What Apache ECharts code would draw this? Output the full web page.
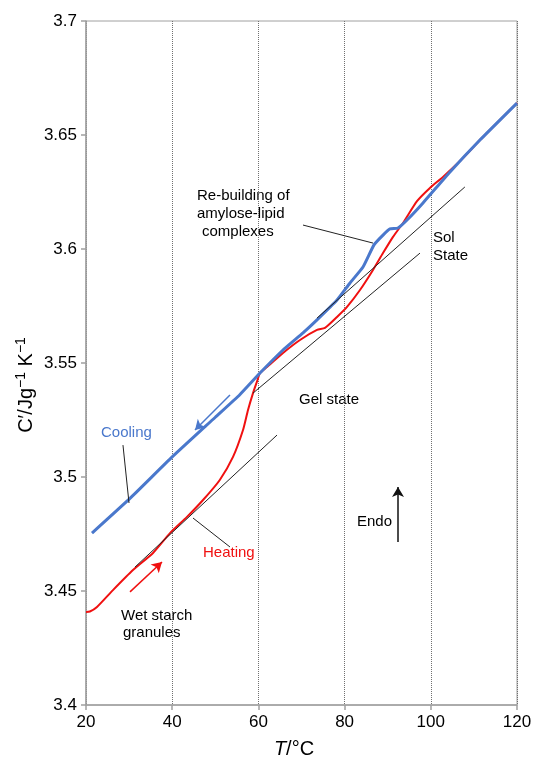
<!DOCTYPE html>
<html>
<head>
<meta charset="utf-8">
<script src="https://cdn.jsdelivr.net/npm/echarts/dist/echarts.min.js"></script>
<style>
html,body{margin:0;padding:0;background:#fff;}
#chart{width:535px;height:757px;}
</style>
</head>
<body>
<div id="chart"></div>
<script>
// Heating curve (red)
const heatT = [20, 20.9, 22.55, 26.26, 30.9, 35.55, 39.49, 43.43, 47.15, 51.04, 54.11, 56.43, 57.59, 58.75, 59.7, 60.37, 62.0, 65.71, 69.65, 73.6, 75.45, 78.24, 80.56, 83.57, 86.59, 88.91, 91.23, 93.55, 96.8, 99.8, 102.83, 107, 111.4, 116, 120];
const heatC = [3.4408, 3.4410, 3.4430, 3.4504, 3.4592, 3.4667, 3.4754, 3.4825, 3.4899, 3.4987, 3.5088, 3.5206, 3.5294, 3.5368, 3.5420, 3.5456, 3.5482, 3.5544, 3.5601, 3.5645, 3.5654, 3.5702, 3.5746, 3.5820, 3.5908, 3.5982, 3.6053, 3.6114, 3.6210, 3.6268, 3.6316, 3.6390, 3.6478, 3.6565, 3.6640];
// Cooling curve (blue)
const coolT = [21.39, 30.2, 40, 50, 55.73, 60.37, 65.71, 70.35, 73.6, 78.24, 81.25, 84.27, 86.82, 88.91, 90.53, 92.39, 94.48, 98.19, 104.45, 111.4, 120];
const coolC = [3.4754, 3.4906, 3.5088, 3.5262, 3.5362, 3.5456, 3.5557, 3.5632, 3.5689, 3.5776, 3.5851, 3.5921, 3.6018, 3.6061, 3.6088, 3.6092, 3.6127, 3.6202, 3.6338, 3.6478, 3.6640];
// Tangent lines [T1, C1, T2, C2]
const tangentLow = [31.37, 3.4605, 64.32, 3.5184];
const tangentGel = [58.75, 3.5368, 97.49, 3.5982];
const tangentSol = [73.6, 3.5697, 107.9, 3.6272];
// Leader lines
const leaderRebuild = [70.35, 3.6105, 86.59, 3.6026];
const leaderCooling = [28.58, 3.5140, 29.98, 3.4886];
const leaderHeating = [44.83, 3.4820, 53.41, 3.4693];
// Arrows [from T, from C, to T, to C]
const arrowCool = [53.41, 3.5360, 45.29, 3.5206];
const arrowHeat = [30.21, 3.4496, 37.63, 3.4627];
const arrowEndo = [92.39, 3.4715, 92.39, 3.4956];
// Axis ticks
const xMin = 20, xMax = 120, xStep = 20;
const yMin = 3.4, yMax = 3.7, yStep = 0.05;

const FONT = 'Liberation Sans, Arial, Helvetica, sans-serif';
const chart = echarts.init(document.getElementById('chart'));

function pairs(t, c) { return t.map((v, i) => [v, c[i]]); }
function seg(a, sym, color, width) {
  return [{ coord: [a[0], a[1]], symbol: sym[0], lineStyle: { color: color, width: width, type: 'solid' } },
          { coord: [a[2], a[3]], symbol: sym[1] }];
}

const option = {
  animation: false,
  backgroundColor: '#fff',
  grid: { left: 86, right: 18, top: 21, bottom: 52, show: true, borderColor: '#a0a0a0', borderWidth: 1, backgroundColor: 'transparent' },
  xAxis: {
    type: 'value', min: xMin, max: xMax, interval: xStep,
    axisLine: { show: true, lineStyle: { color: '#a0a0a0', width: 1.5 } },
    axisTick: { show: true, inside: false, length: 5, lineStyle: { color: '#a0a0a0', width: 1.5 } },
    axisLabel: { color: '#000', fontSize: 17, fontFamily: FONT, margin: 9 },
    splitLine: { show: true, lineStyle: { color: '#707070', width: 1, type: 'dotted' } }
  },
  yAxis: {
    type: 'value', min: yMin, max: yMax, interval: yStep,
    axisLine: { show: true, lineStyle: { color: '#a0a0a0', width: 1.5 } },
    axisTick: { show: true, inside: false, length: 5, lineStyle: { color: '#a0a0a0', width: 1.5 } },
    axisLabel: { color: '#000', fontSize: 17, fontFamily: FONT, margin: 9, formatter: v => String(+v.toFixed(2)) },
    splitLine: { show: false }
  },
  series: [
    {
      type: 'line', name: 'Heating', data: pairs(heatT, heatC), showSymbol: false, smooth: 0.2,
      lineStyle: { color: '#f01010', width: 2 }, z: 3
    },
    {
      type: 'line', name: 'Cooling', data: pairs(coolT, coolC), showSymbol: false, smooth: 0.15,
      lineStyle: { color: '#4a78cc', width: 3 }, z: 4
    },
    {
      type: 'line', name: 'annot', data: [], z: 5,
      markLine: {
        silent: true, animation: false, label: { show: false }, symbolSize: [9, 10],
        data: [
          seg(tangentLow, ['none', 'none'], '#222', 1),
          seg(tangentGel, ['none', 'none'], '#222', 1),
          seg(tangentSol, ['none', 'none'], '#222', 1),
          seg(leaderRebuild, ['none', 'none'], '#222', 1),
          seg(leaderCooling, ['none', 'none'], '#222', 1),
          seg(leaderHeating, ['none', 'none'], '#222', 1),
          seg(arrowCool, ['none', 'arrow'], '#4a78cc', 1.5),
          seg(arrowHeat, ['none', 'arrow'], '#f01010', 1.5),
          seg(arrowEndo, ['none', 'arrow'], '#111', 1.5)
        ]
      }
    }
  ],
  graphic: [
    { type: 'text', x: 197, y: 196, style: { text: 'Re-building of', font: '15px ' + FONT, fill: '#000', textVerticalAlign: 'middle' } },
    { type: 'text', x: 197, y: 214, style: { text: 'amylose-lipid', font: '15px ' + FONT, fill: '#000', textVerticalAlign: 'middle' } },
    { type: 'text', x: 202, y: 232, style: { text: 'complexes', font: '15px ' + FONT, fill: '#000', textVerticalAlign: 'middle' } },
    { type: 'text', x: 433, y: 238, style: { text: 'Sol', font: '15px ' + FONT, fill: '#000', textVerticalAlign: 'middle' } },
    { type: 'text', x: 433, y: 256, style: { text: 'State', font: '15px ' + FONT, fill: '#000', textVerticalAlign: 'middle' } },
    { type: 'text', x: 299, y: 400, style: { text: 'Gel state', font: '15px ' + FONT, fill: '#000', textVerticalAlign: 'middle' } },
    { type: 'text', x: 101, y: 433, style: { text: 'Cooling', font: '15px ' + FONT, fill: '#4a78cc', textVerticalAlign: 'middle' } },
    { type: 'text', x: 203, y: 553, style: { text: 'Heating', font: '15px ' + FONT, fill: '#f01010', textVerticalAlign: 'middle' } },
    { type: 'text', x: 121, y: 616, style: { text: 'Wet starch', font: '15px ' + FONT, fill: '#000', textVerticalAlign: 'middle' } },
    { type: 'text', x: 123, y: 633, style: { text: 'granules', font: '15px ' + FONT, fill: '#000', textVerticalAlign: 'middle' } },
    { type: 'text', x: 357, y: 522, style: { text: 'Endo', font: '15px ' + FONT, fill: '#000', textVerticalAlign: 'middle' } },
    { type: 'text', x: 294, y: 749, style: {
        text: '{i|T}{n|/°C}', textAlign: 'center', textVerticalAlign: 'middle',
        rich: { i: { fontSize: 20, fontStyle: 'italic', fontFamily: FONT, fill: '#000' }, n: { fontSize: 20, fontFamily: FONT, fill: '#000' } }
      } },
    { type: 'text', x: 26, y: 385, rotation: Math.PI / 2, style: {
        text: '{n|C′/Jg}{s|−1}{n| K}{s|−1}', textAlign: 'center', textVerticalAlign: 'middle',
        rich: { n: { fontSize: 20, fontFamily: FONT, fill: '#000' }, s: { fontSize: 14, fontFamily: FONT, fill: '#000', verticalAlign: 'top', padding: [0, 0, 9, 0] } }
      } }
  ]
};
chart.setOption(option);
</script>
</body>
</html>
